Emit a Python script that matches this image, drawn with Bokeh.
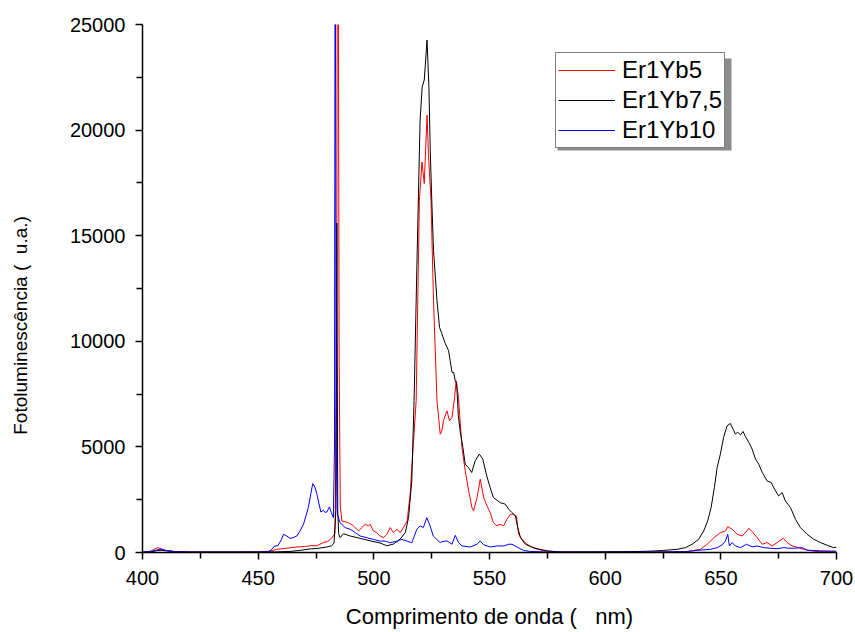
from bokeh.plotting import figure
from bokeh.models import Range1d, FixedTicker, BoxAnnotation
from bokeh.embed import file_html
from bokeh.resources import INLINE

# ---- data ----
wl_er1yb5 = [400, 403, 405, 406.5, 408, 410, 413, 418, 425, 440, 450, 455, 458, 462, 466.7, 470,
             472.5, 475.4, 478.2, 480, 481.8, 483.2, 483.9, 484.4, 485.0, 485.5, 486.2, 488.3, 489.5,
             491.2, 493.4, 494.8, 496.3, 497.7, 498.4, 499.8, 501.3, 502.7, 504.2, 505.6, 507.1, 508.5,
             510, 511.4, 512.8, 514.4, 515.7, 517, 518.3, 519.7, 520.8, 521.8, 523.0, 523.6, 524.7,
             525.8, 527.3, 528.7, 529.4, 530.1, 531.6, 532.7, 533.8, 534.9, 535.6, 536.6, 538.1, 539.5,
             541, 542.4, 543.1, 544.6, 546, 547.5, 548.9, 550.3, 551.7, 553.2, 554.6, 556.1, 557.5, 559,
             560.4, 561.6, 562.6, 564.1, 566.2, 569.1, 573.4, 578, 590, 620, 635, 641.2, 644.1, 647,
             649.8, 652, 653, 654.9, 657.1, 659.2, 660.6, 662.1, 663.5, 665.7, 667.9, 670, 672.2, 674.3,
             676.9, 678.7, 680.8, 683.7, 685.8, 688, 692, 700]
pl_er1yb5 = [20, 30, 150, 230, 180, 100, 60, 30, 20, 20, 30, 60, 150, 200, 260, 280,
             320, 320, 470, 520, 680, 900, 8000, 40000, 9000, 2200, 1490, 1440, 1380,
             1260, 1020, 1180, 1340, 1260, 1340, 1020, 940, 780, 700, 860, 1180, 940,
             1100, 940, 1180, 1490, 2770, 5000, 7190, 16680, 18490, 17470, 20710, 18900, 16680,
             11930, 7190, 5600, 5760, 6240, 6710, 6240, 6390, 7340, 8130, 7340, 4970, 3870,
             2920, 2130, 1970, 2600, 3470, 2600, 2210, 1890, 1410, 1260, 1340, 1260, 1570, 1810,
             1810, 1730, 860, 625, 390, 210, 80, 30, 20, 20, 40, 150, 390, 700,
             940, 1020, 1225, 1100, 860, 780, 940, 1150, 990, 700, 390, 470, 310, 470,
             670, 470, 310, 230, 150, 100, 40, 30]

wl_er1yb75 = [400, 404, 406, 408, 410, 414, 420, 450, 458, 463.8, 468, 472.5, 476, 479.7, 481.8,
              482.8, 483.6, 484.0, 484.4, 484.8, 485.4, 486.9, 489.8, 494.1, 498.4, 502.7, 505.6,
              508.5, 511.4, 513.6, 515, 516.4, 517.4, 518.6, 519.3, 520, 520.9, 521.8, 523, 523.8,
              524.4, 525.1, 525.8, 527.3, 528.4, 529.4, 530.9, 532.3, 533, 533.8, 534.5, 535.2,
              535.8, 536.5, 537.3, 538.5, 539.5, 540.9, 542.3, 543.8, 545.6, 547.1, 548.8, 550.3,
              551.7, 553.2, 554.6, 556.8, 558.3, 559.7, 561.2, 562.2, 563.4, 565.5, 567.7, 570.5,
              574.9, 580.6, 600, 606.6, 615, 621, 625.3, 631.1, 634.7, 637.6, 640.4, 642.6, 644.3,
              645.8, 647.2, 648.4, 649.8, 651.2, 652.7, 654.1, 655.3, 656.3, 657.3, 658.5, 659.6,
              660.6, 662.1, 663.5, 665, 666.4, 667.9, 670, 671.8, 673.2, 675, 676.5, 677.9, 680.1,
              682.3, 684.4, 687.3, 690.2, 693.1, 696, 698.8, 700]
pl_er1yb75 = [10, 40, 80, 110, 80, 40, 20, 20, 30, 50, 100, 170, 200, 260, 320,
              450, 2000, 15600, 2000, 900, 700, 890, 780, 670, 550, 450, 320,
              400, 640, 940, 1650, 3390, 7190, 13510, 17000, 20470, 22050, 22370, 24265, 22050,
              19000, 16500, 14300, 11930, 10660, 10360, 9890, 9560, 9080, 8530, 8530, 8130,
              8000, 6500, 5760, 4970, 4180, 4020, 3790, 4340, 4660, 4420, 3630, 3070,
              2600, 2480, 2360, 2290, 2050, 1890, 1730, 1180, 700, 390, 280, 180,
              80, 20, 30, 40, 50, 70, 100, 150, 230, 390, 625, 1020, 1490,
              2130, 3070, 4020, 4660, 5450, 6000, 6110, 5840, 5610, 5690, 5570, 5730,
              5500, 5210, 4900, 4420, 4180, 3790, 3390, 3310, 3000, 2680, 2840, 2440, 2130,
              1570, 1180, 860, 625, 470, 340, 230, 250]

wl_er1yb10 = [400, 404, 406, 408, 410, 414, 420, 450, 454, 455.5, 457, 458.5, 460, 461, 462.4,
              463.8, 465, 466.7, 468, 469.6, 471.7, 472.8, 473.6, 474.5, 475.4, 476.3, 477.1, 478.2,
              478.9, 479.7, 480.8, 481.6, 482.5, 483.0, 483.3, 483.7, 484.3, 485.4, 487.6, 489.8,
              492, 494.1, 497, 499.8, 502.7, 504.9, 507.1, 510, 512.1, 514.3, 516.4, 518.6, 520,
              521.4, 522.9, 524.3, 525.7, 527.2, 528.7, 529.4, 531.6, 533.8, 535.2, 536.6, 538.1,
              541.7, 544.6, 546, 547.5, 550.4, 553.3, 556.1, 558.3, 559.7, 561.9, 564.7, 567.6,
              575, 620, 635, 639.7, 645.5, 648.4, 650.5, 652, 653, 653.7, 654.9, 656.3, 658.5,
              661.1, 663.5, 665.7, 668.6, 671.4, 674.3, 677.2, 679.4, 681.5, 685.2, 687.3, 693.1, 700]
pl_er1yb10 = [20, 60, 120, 150, 100, 40, 20, 20, 30, 100, 300, 320, 600, 860, 780,
              670, 700, 780, 1000, 1340, 2130, 2800, 3260, 3100, 2760, 2300, 1920, 2000,
              1900, 1920, 2160, 1900, 1650, 5000, 35000, 5000, 1800, 1410, 1180, 1100,
              940, 780, 700, 620, 540, 540, 460, 540, 620, 540, 460, 1100, 1260,
              1180, 1650, 1260, 780, 620, 470, 510, 550, 390, 815, 470, 310,
              260, 390, 550, 360, 260, 310, 310, 390, 390, 260, 100, 50,
              20, 20, 40, 100, 150, 230, 355, 545, 860, 310, 470, 310, 230,
              390, 270, 310, 230, 200, 180, 230, 200, 200, 230, 110, 80, 60]

series_names = ["Er1Yb5", "Er1Yb7,5", "Er1Yb10"]
series_colors = ["#ff0000", "#000000", "#0000ff"]

x_ticks = [400, 450, 500, 550, 600, 650, 700]
x_minor = [425, 475, 525, 575, 625, 675]
y_ticks = [0, 5000, 10000, 15000, 20000, 25000]
y_minor = [2500, 7500, 12500, 17500, 22500]

NB = "\u00a0"
x_label = "Comprimento de onda (" + NB * 3 + "nm)"
y_label = "Fotoluminescência (" + NB * 2 + "u.a.)"

FONT = "Liberation Sans"

p = figure(width=855, height=632, output_backend="svg", toolbar_location=None,
           x_range=Range1d(400, 700), y_range=Range1d(0, 25000),
           min_border_left=142, min_border_right=19, min_border_top=24, min_border_bottom=80)
p.outline_line_color = None
p.xgrid.visible = False
p.ygrid.visible = False
p.background_fill_color = "white"
p.border_fill_color = "white"

# legend shadow, drawn beneath everything else
shadow = BoxAnnotation(left=415, right=589, bottom=402, top=494,
                       left_units="screen", right_units="screen",
                       bottom_units="screen", top_units="screen",
                       fill_color="#8c8c8c", fill_alpha=1.0, line_color=None,
                       level="underlay")
p.add_layout(shadow)

for wl, pl, col, name in zip([wl_er1yb5, wl_er1yb75, wl_er1yb10],
                             [pl_er1yb5, pl_er1yb75, pl_er1yb10], series_colors, series_names):
    p.line(wl, pl, line_color=col, line_width=1, legend_label=name)

p.xaxis.ticker = FixedTicker(ticks=x_ticks, minor_ticks=x_minor)
p.yaxis.ticker = FixedTicker(ticks=y_ticks, minor_ticks=y_minor)
for ax in (p.xaxis[0], p.yaxis[0]):
    ax.axis_line_width = 1.5
    ax.axis_line_color = "black"
    ax.major_tick_line_width = 1.5
    ax.minor_tick_line_width = 1.5
    ax.major_tick_line_color = "black"
    ax.minor_tick_line_color = "black"
    ax.major_tick_in = 0
    ax.major_tick_out = 7
    ax.minor_tick_in = 0
    ax.minor_tick_out = 6
    ax.major_label_text_font = FONT
    ax.major_label_text_font_size = "20px"
    ax.major_label_text_color = "black"
    ax.axis_label_text_font = FONT
    ax.axis_label_text_font_style = "normal"
    ax.axis_label_text_color = "black"

p.xaxis.axis_label = x_label
p.xaxis.axis_label_text_font_size = "22px"
p.xaxis.major_label_standoff = 11
p.yaxis.major_label_standoff = 10
p.xaxis.axis_label_standoff = 16

# y title: trailing no-break spaces move the visible words down, as in the reference
p.yaxis.axis_label = y_label + NB * 14
p.yaxis.axis_label_text_font_size = "19px"
p.yaxis.axis_label_standoff = 36

lg = p.legend[0]
lg.location = (413, 404)
lg.label_text_font = FONT
lg.label_text_font_size = "24px"
lg.label_text_color = "black"
lg.glyph_width = 57
lg.glyph_height = 30
lg.label_height = 30
lg.label_standoff = 7
lg.spacing = 0
lg.padding = 2
lg.margin = 0
lg.border_line_color = "black"
lg.border_line_width = 1
lg.background_fill_color = "white"
lg.background_fill_alpha = 1.0

open("out.html", "w").write(file_html(p, INLINE))
